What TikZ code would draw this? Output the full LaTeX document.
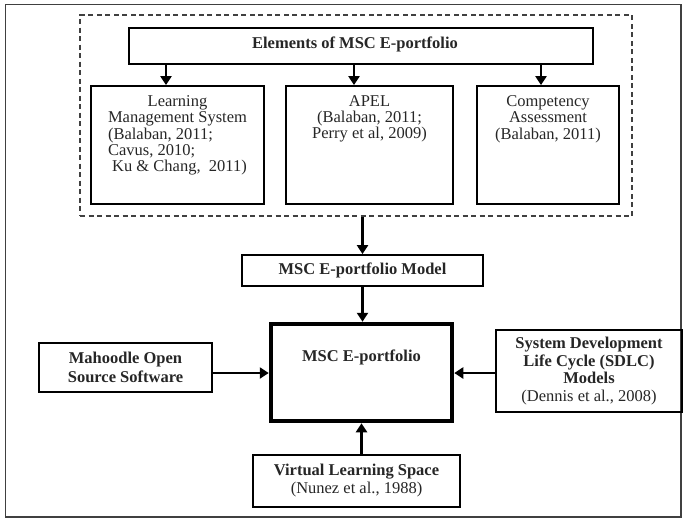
\documentclass[tikz,border=0pt]{standalone}
\usepackage{fontspec}
\setmainfont{Liberation Serif}
\usepackage{calc}
\usetikzlibrary{arrows.meta,positioning}

\newcommand{\lmsline}[1]{\makebox[\widthof{Management System}][l]{#1}}

\begin{document}
\begin{tikzpicture}[x=1pt, y=-1pt,
  font=\fontsize{16.5}{16.4}\selectfont,
  box/.style={draw, line width=1.8pt, text=black!85, inner sep=0pt, align=center},
  core/.style={draw, line width=4.5pt, inner sep=0pt},
  group/.style={draw=black!75, line width=1.1pt, dash pattern=on 5pt off 3.5pt},
  bold/.style={font=\fontsize{16.5}{#1}\selectfont\bfseries},
  bold/.default=16.4,
  toptext/.style={anchor=north, align=center, text=black!85, inner sep=0pt},
  arrow/.style={-{Triangle[length=9pt,width=11pt]}, line width=2.8pt}
]
\useasboundingbox (0,0) rectangle (684,520);
\draw[line width=1.5pt, black!75] (5.5,4.5) rectangle (681,517);

% elements of the portfolio
\node[group, minimum width=552pt, minimum height=201pt] (frame) at (356,115.5) {};
\node[box, minimum width=464pt, minimum height=36pt] (elem) at (361,46) {};
\node[bold, text=black!85, inner sep=0pt] (elemtext) at (355,44) {Elements of MSC E-portfolio};
\node[box, minimum width=173pt, minimum height=118pt] (lms) at (177.5,145) {};
\node[box, minimum width=167pt, minimum height=118pt] (apel) at (369.5,145) {};
\node[box, minimum width=142pt, minimum height=118pt] (comp) at (548,145) {};
\node[toptext] (lmstext) at ([yshift=-10pt]lms.north) {Learning\\Management System\\\lmsline{(Balaban, 2011;}\\\lmsline{Cavus, 2010;}\\\lmsline{\ Ku \& Chang,\ \ 2011)}};
\node[toptext] (apeltext) at ([yshift=-10pt]apel.north) {APEL\\(Balaban, 2011;\\Perry et al, 2009)};
\node[toptext] (comptext) at ([yshift=-10pt]comp.north) {Competency\\Assessment\\(Balaban, 2011)};

% model and portfolio
\node[box, bold, minimum width=241pt, minimum height=31pt] (model) at (362.5,270.5) {MSC E-portfolio Model};
\node[core, minimum width=181pt, minimum height=97pt] (main) at (361.5,372.5) {};
\node[toptext, bold] (maintext) at ([yshift=-28pt]main.north) {MSC E-portfolio};
\node[box, bold=19.5, minimum width=173pt, minimum height=49pt] (moodle) at (125.5,367.5) {Mahoodle Open\\Source Software};
\node[box, bold=17.6, minimum width=186pt, minimum height=82pt] (sdlc) at (589,371) {System Development\\Life Cycle (SDLC)\\Models\\\mdseries(Dennis et al., 2008)};
\node[box, bold=18, minimum width=207pt, minimum height=52pt] (virtual) at (356.5,481) {Virtual Learning Space\\\mdseries(Nunez et al., 1988)};

\draw[arrow] ([xshift=-11.5pt]lms.north |- elem.south) -- ([xshift=-11.5pt]lms.north);
\draw[arrow] ([xshift=-15.5pt]apel.north |- elem.south) -- ([xshift=-15.5pt]apel.north);
\draw[arrow] ([xshift=-7pt]comp.north |- elem.south) -- ([xshift=-7pt]comp.north);
\draw[arrow] (model.north |- frame.south) -- (model.north);
\draw[arrow] (model.south) -- (model.south |- main.north);
\draw[arrow] ([yshift=-5.5pt]moodle.east) -- ([yshift=-5.5pt]moodle.east -| main.west);
\draw[arrow] ([yshift=-2pt]sdlc.west) -- ([yshift=-2pt]sdlc.west -| main.east);
\draw[arrow] (virtual.north -| main.south) -- (main.south);
\end{tikzpicture}
\end{document}
